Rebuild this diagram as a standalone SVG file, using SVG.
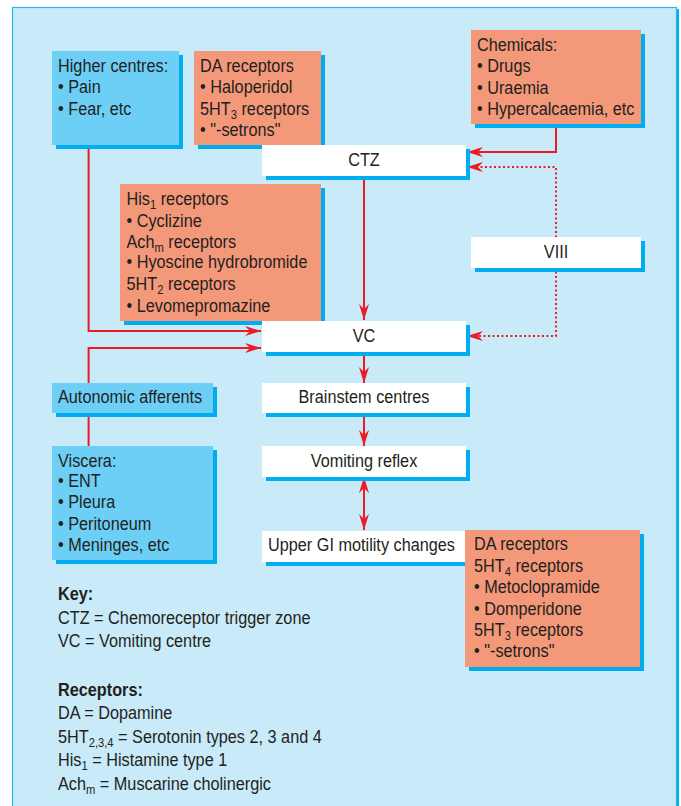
<svg xmlns="http://www.w3.org/2000/svg" width="681" height="806" viewBox="0 0 681 806">
<defs>
<style>
text{font-family:"Liberation Sans",Arial,Helvetica,sans-serif;font-size:17.5px;fill:#231f20}
.c{text-anchor:middle}
.b{font-weight:bold}
.sub{font-size:12px}
.sh{fill:#00aeef}
.blue{fill:#6dcff6}
.sal{fill:#f4987a}
.wh{fill:#ffffff}
.ln{fill:none;stroke:#ed1c24;stroke-width:2}
.dot{fill:none;stroke:#ed1c24;stroke-width:2;stroke-dasharray:2 2.5}
</style>
<marker id="ah" markerUnits="userSpaceOnUse" viewBox="-17 -6 18 12" refX="0" refY="0" markerWidth="18" markerHeight="12" orient="auto-start-reverse">
<path d="M0,0 L-16,-5 L-11,0 L-16,5 Z" fill="#ed1c24"/>
</marker>
</defs>
<rect x="0" y="0" width="681" height="806" fill="#ffffff"/>
<rect x="15" y="9" width="664" height="800" fill="#00aeef"/>
<rect x="12.5" y="7.5" width="664" height="805" fill="#c9eaf9" stroke="#29b6ec" stroke-width="1.2"/>

<g id="connectors">
<path class="ln" d="M88.6,145 V331 H261" marker-end="url(#ah)"/>
<path class="ln" d="M88.6,383 V348 H261" marker-end="url(#ah)"/>
<path class="ln" d="M88.6,413 V446"/>
<path class="ln" d="M556,124 V152 H467" marker-end="url(#ah)"/>
<path class="dot" d="M467,167 H556 V336 H467" marker-start="url(#ah)" marker-end="url(#ah)"/>
<path class="ln" d="M364,176 V320" marker-end="url(#ah)"/>
<path class="ln" d="M364,352 V383" marker-end="url(#ah)"/>
<path class="ln" d="M364,413 V446" marker-end="url(#ah)"/>
<path class="ln" d="M364,477 V530" marker-start="url(#ah)" marker-end="url(#ah)"/>
</g>

<g id="higher-centres">
<rect class="sh" x="56" y="55" width="127" height="94"/>
<rect class="blue" x="52" y="51" width="127" height="94"/>
<g transform="translate(58 0) scale(0.93 1) translate(-58 0)">
<text x="58" y="71.7">Higher centres:</text>
<text x="58" y="93.3">• Pain</text>
<text x="58" y="115">• Fear, etc</text>
</g>
</g>

<g id="da-receptors-1">
<rect class="sh" x="198" y="55" width="127" height="94"/>
<rect class="sal" x="194" y="51" width="127" height="94"/>
<g transform="translate(200 0) scale(0.93 1) translate(-200 0)">
<text x="200" y="71.7">DA receptors</text>
<text x="200" y="93.3">• Haloperidol</text>
<text x="200" y="115">5HT<tspan class="sub" dy="4">3</tspan><tspan dy="-4"> receptors</tspan></text>
<text x="200" y="136">• "-setrons"</text>
</g>
</g>

<g id="chemicals">
<rect class="sh" x="475" y="34" width="170" height="94"/>
<rect class="sal" x="471" y="30" width="170" height="94"/>
<g transform="translate(477 0) scale(0.93 1) translate(-477 0)">
<text x="477" y="51.5">Chemicals:</text>
<text x="477" y="72.5">• Drugs</text>
<text x="477" y="94">• Uraemia</text>
<text x="477" y="115.5">• Hypercalcaemia, etc</text>
</g>
</g>

<g id="ctz">
<rect class="sh" x="266" y="149" width="204" height="31"/>
<rect class="wh" x="262" y="145" width="204" height="31"/>
<g transform="translate(364 0) scale(0.93 1) translate(-364 0)">
<text class="c" x="364" y="166">CTZ</text>
</g>
</g>

<g id="his-receptors">
<rect class="sh" x="124" y="188" width="201" height="137"/>
<rect class="sal" x="120" y="184" width="201" height="137"/>
<g transform="translate(126.5 0) scale(0.93 1) translate(-126.5 0)">
<text x="126.5" y="205">His<tspan class="sub" dy="4">1</tspan><tspan dy="-4"> receptors</tspan></text>
<text x="126.5" y="226.7">• Cyclizine</text>
<text x="126.5" y="247.7">Ach<tspan class="sub" dy="4">m</tspan><tspan dy="-4"> receptors</tspan></text>
<text x="126.5" y="268.3">• Hyoscine hydrobromide</text>
<text x="126.5" y="290">5HT<tspan class="sub" dy="4">2</tspan><tspan dy="-4"> receptors</tspan></text>
<text x="126.5" y="311.7">• Levomepromazine</text>
</g>
</g>

<g id="viii">
<rect class="sh" x="475" y="241" width="170" height="31"/>
<rect class="wh" x="471" y="237" width="170" height="31"/>
<g transform="translate(556 0) scale(0.93 1) translate(-556 0)">
<text class="c" x="556" y="258.5">VIII</text>
</g>
</g>

<g id="vc">
<rect class="sh" x="266" y="325" width="204" height="31"/>
<rect class="wh" x="262" y="321" width="204" height="31"/>
<g transform="translate(364 0) scale(0.93 1) translate(-364 0)">
<text class="c" x="364" y="342">VC</text>
</g>
</g>

<g id="autonomic-afferents">
<rect class="sh" x="56" y="387" width="161" height="30"/>
<rect class="blue" x="52" y="383" width="161" height="30"/>
<g transform="translate(58 0) scale(0.93 1) translate(-58 0)">
<text x="58" y="403.5">Autonomic afferents</text>
</g>
</g>

<g id="brainstem-centres">
<rect class="sh" x="266" y="387" width="204" height="30"/>
<rect class="wh" x="262" y="383" width="204" height="30"/>
<g transform="translate(364 0) scale(0.93 1) translate(-364 0)">
<text class="c" x="364" y="403.5">Brainstem centres</text>
</g>
</g>

<g id="vomiting-reflex">
<rect class="sh" x="266" y="450" width="204" height="31"/>
<rect class="wh" x="262" y="446" width="204" height="31"/>
<g transform="translate(364 0) scale(0.93 1) translate(-364 0)">
<text class="c" x="364" y="467">Vomiting reflex</text>
</g>
</g>

<g id="viscera">
<rect class="sh" x="56" y="450" width="161" height="114"/>
<rect class="blue" x="52" y="446" width="161" height="114"/>
<g transform="translate(58 0) scale(0.93 1) translate(-58 0)">
<text x="58" y="466.7">Viscera:</text>
<text x="58" y="487.5">• ENT</text>
<text x="58" y="508.5">• Pleura</text>
<text x="58" y="530">• Peritoneum</text>
<text x="58" y="551">• Meninges, etc</text>
</g>
</g>

<g id="upper-gi">
<rect class="sh" x="266" y="535" width="204" height="31"/>
<rect class="wh" x="262" y="531" width="204" height="31"/>
<g transform="translate(268 0) scale(0.93 1) translate(-268 0)">
<text x="268" y="551">Upper GI motility changes</text>
</g>
</g>

<g id="da-receptors-2">
<rect class="sh" x="469" y="534" width="175" height="137"/>
<rect class="sal" x="465" y="530" width="175" height="137"/>
<g transform="translate(474 0) scale(0.93 1) translate(-474 0)">
<text x="474" y="550">DA receptors</text>
<text x="474" y="572">5HT<tspan class="sub" dy="4">4</tspan><tspan dy="-4"> receptors</tspan></text>
<text x="474" y="593.5">• Metoclopramide</text>
<text x="474" y="615">• Domperidone</text>
<text x="474" y="636.5">5HT<tspan class="sub" dy="4">3</tspan><tspan dy="-4"> receptors</tspan></text>
<text x="474" y="657.5">• "-setrons"</text>
</g>
</g>

<g id="key">
<g transform="translate(58 0) scale(0.93 1) translate(-58 0)">
<text class="b" x="58" y="600">Key:</text>
<text x="58" y="624">CTZ = Chemoreceptor trigger zone</text>
<text x="58" y="647">VC = Vomiting centre</text>
<text class="b" x="58" y="696">Receptors:</text>
<text x="58" y="719">DA = Dopamine</text>
<text x="58" y="743">5HT<tspan class="sub" dy="4">2,3,4</tspan><tspan dy="-4"> = Serotonin types 2, 3 and 4</tspan></text>
<text x="58" y="766.5">His<tspan class="sub" dy="4">1</tspan><tspan dy="-4"> = Histamine type 1</tspan></text>
<text x="58" y="790.5">Ach<tspan class="sub" dy="4">m</tspan><tspan dy="-4"> = Muscarine cholinergic</tspan></text>
</g>
</g>
</svg>
